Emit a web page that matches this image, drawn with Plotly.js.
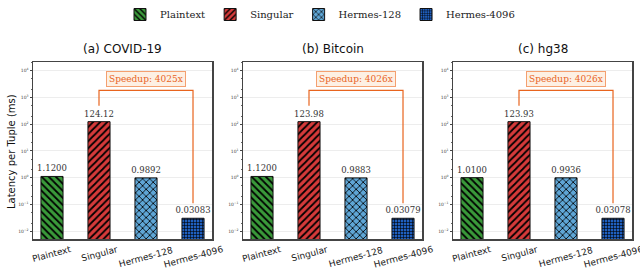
<!DOCTYPE html>
<html><head><meta charset="utf-8">
<script src="https://cdn.plot.ly/plotly-3.0.1.min.js"></script>
<style>html,body{margin:0;padding:0;background:#fff}#c{width:640px;height:269px}</style>
</head><body><div id="c"></div>
<script>
const categories = ['Plaintext', 'Singular', 'Hermes-128', 'Hermes-4096'];
const panelTitles = ['(a) COVID-19', '(b) Bitcoin', '(c) hg38'];
const covidValues = [1.1200, 124.12, 0.9892, 0.03083];
const bitcoinValues = [1.1200, 123.98, 0.9883, 0.03079];
const hg38Values = [1.0100, 123.93, 0.9936, 0.03078];
const labelDecimals = [4, 2, 4, 5];
const yTickVals = [0.01, 0.1, 1, 10, 100, 1000, 10000];
const yTickText = ['10<sup>−2</sup>', '10<sup>−1</sup>', '10<sup>0</sup>', '10<sup>1</sup>', '10<sup>2</sup>', '10<sup>3</sup>', '10<sup>4</sup>'];

const panels = [covidValues, bitcoinValues, hg38Values];
const colors = ['#3a9a3a', '#d63a3a', '#5fa6d6', '#1f5fbf'];
const patterns = [
  {shape: '\\', fgcolor: '#000', bgcolor: '#3a9a3a', size: 5, solidity: 0.35},
  {shape: '/', fgcolor: '#000', bgcolor: '#d63a3a', size: 5, solidity: 0.35},
  {shape: 'x', fgcolor: '#000', bgcolor: '#5fa6d6', size: 5, solidity: 0.3},
  {shape: '+', fgcolor: '#000', bgcolor: '#1f5fbf', size: 3, solidity: 0.35}
];
const serif = 'DejaVu Serif';
const sans = 'DejaVu Sans';
const orange = '#e8641e';

const W = 640, H = 269;
const xPix = [[33, 212], [243, 422], [453, 632]];
const yDom = [(H - 239) / H, (H - 62) / H];

const traces = [];
const layout = {
  width: W, height: H,
  margin: {l: 0, r: 0, t: 0, b: 0},
  paper_bgcolor: '#fff', plot_bgcolor: '#fff',
  showlegend: true,
  legend: {orientation: 'h', x: 0.5, xanchor: 'center', y: 1.0, yanchor: 'top',
           font: {family: serif, size: 10, color: '#222'}, traceorder: 'normal',
           itemwidth: 30},
  bargap: 0,
  annotations: [], shapes: []
};

panels.forEach((vals, p) => {
  const xa = p === 0 ? 'x' : 'x' + (p + 1);
  const ya = p === 0 ? 'y' : 'y' + (p + 1);
  categories.forEach((cat, i) => {
    traces.push({
      type: 'bar', x: [cat], y: [vals[i]], xaxis: xa, yaxis: ya,
      name: cat, legendgroup: cat, showlegend: p === 0,
      width: 0.47,
      marker: {color: colors[i], pattern: patterns[i], line: {color: '#111', width: 1}},
      text: [vals[i].toFixed(labelDecimals[i])], textposition: 'outside',
      constraintext: 'none',
      textfont: {family: serif, size: 8.5, color: '#333'},
      outsidetextfont: {family: serif, size: 8.5, color: '#333'},
      cliponaxis: false,
      hoverinfo: 'skip'
    });
    // category tick label, centred under its bar and rotated
    layout.annotations.push({
      xref: xa, yref: 'paper', x: cat, y: (H - 242) / H,
      text: cat, showarrow: false, textangle: -15,
      xanchor: 'center', yanchor: 'top',
      font: {family: sans, size: 9, color: '#222'}
    });
  });
  // speedup bracket
  const s = vals[1], h = vals[3];
  traces.push({
    type: 'scatter', mode: 'lines', xaxis: xa, yaxis: ya, showlegend: false,
    x: [categories[1], categories[1], categories[3], categories[3]],
    y: [s * 3.9, s * 14.7, s * 14.7, h * 3.6],
    line: {color: orange, width: 1.2}, hoverinfo: 'skip'
  });
  const speed = Math.floor(s / h);
  layout.annotations.push({
    xref: xa, yref: ya, x: categories[2], y: Math.log10(s * 40),
    text: 'Speedup: ' + speed + 'x', showarrow: false,
    font: {family: serif, size: 9, color: orange},
    bgcolor: '#fdf0e4', bordercolor: '#f4a070', borderwidth: 1, borderpad: 2
  });
  const d0 = xPix[p][0] / W, d1 = xPix[p][1] / W;
  layout['xaxis' + (p === 0 ? '' : p + 1)] = {
    domain: [d0, d1], anchor: ya, type: 'category', range: [-0.404, 3.404],
    showticklabels: false,
    showline: true, linecolor: '#444', linewidth: 1.5, mirror: true,
    ticks: '', showgrid: false, fixedrange: true
  };
  layout['yaxis' + (p === 0 ? '' : p + 1)] = {
    domain: yDom, anchor: xa, type: 'log', range: [-2.285, 4.32],
    tickvals: yTickVals, ticktext: yTickText,
    tickfont: {family: sans, size: 4.5, color: '#444'},
    ticks: 'outside', ticklen: 2, tickcolor: '#444',
    minor: {ticks: 'outside', ticklen: 1, tickcolor: '#666', showgrid: false},
    showline: true, linecolor: '#444', linewidth: 1.5, mirror: true,
    showgrid: true, gridcolor: '#e8e8e8', gridwidth: 0.8, zeroline: false,
    fixedrange: true
  };
  layout.annotations.push({
    xref: 'paper', yref: 'paper', x: (d0 + d1) / 2, y: (H - 49) / H,
    text: panelTitles[p], showarrow: false, xanchor: 'center', yanchor: 'middle',
    font: {family: sans, size: 12, color: '#111'}
  });
});

layout.annotations.push({
  xref: 'paper', yref: 'paper', x: 11 / W, y: (H - 152) / H,
  text: 'Latency per Tuple (ms)', showarrow: false, textangle: -90,
  xanchor: 'center', yanchor: 'middle',
  font: {family: sans, size: 10, color: '#111'}
});

Plotly.newPlot('c', traces, layout, {staticPlot: true, displayModeBar: false});
</script></body></html>
